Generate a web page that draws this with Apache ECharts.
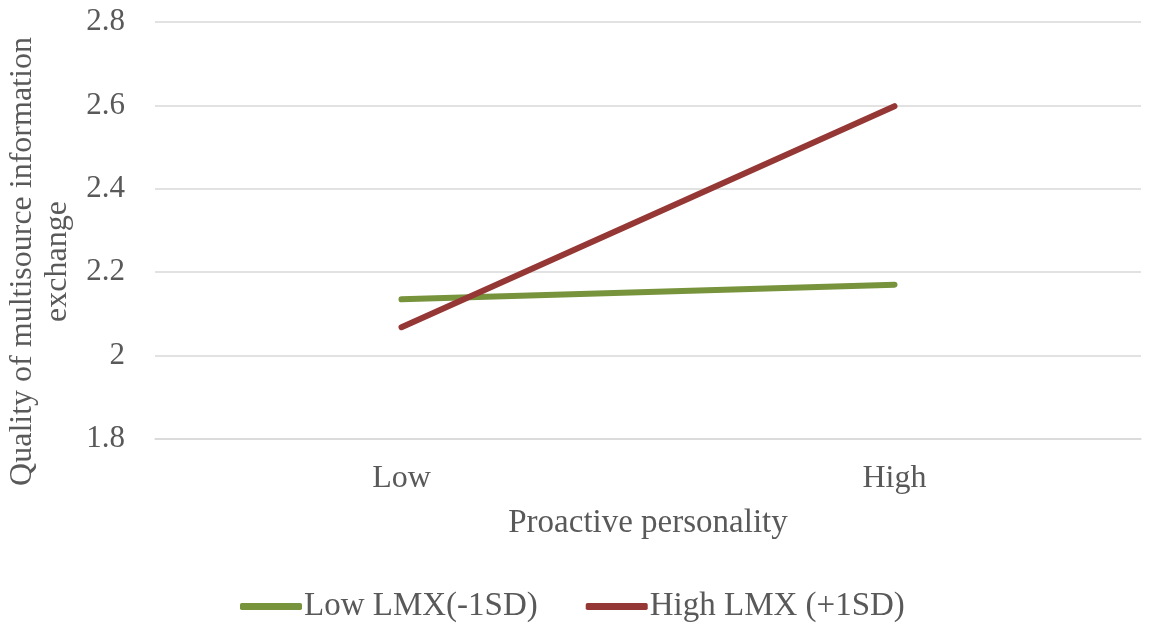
<!DOCTYPE html>
<html>
<head>
<meta charset="utf-8">
<script src="https://cdn.jsdelivr.net/npm/echarts@6/dist/echarts.min.js"></script>
<style>
  html, body { margin: 0; padding: 0; background: #fff; }
  #main { width: 1176px; height: 636px; }
</style>
</head>
<body>
<div id="main"></div>
<script>
// data
const categories = ['Low', 'High'];
const lowLMX = [2.135, 2.17];
const highLMX = [2.068, 2.598];
const seriesNames = ['Low LMX(-1SD)', 'High LMX (+1SD)'];

const FONT = '"Liberation Serif", "Times New Roman", serif';
const TEXT = '#595959';

let myChart = echarts.init(document.getElementById('main'));

let option = {
    backgroundColor: '#fff',
    color: ['#77933C', '#953735'],
    textStyle: { fontFamily: FONT, color: TEXT },
    grid: { left: 155, right: 35, top: 22, bottom: 197, outerBoundsMode: 'none', containLabel: false },
    legend: {
        bottom: 8,
        left: 235,
        icon: 'roundRect',
        itemWidth: 62,
        itemHeight: 7,
        itemGap: 48,
        textStyle: { fontFamily: FONT, fontSize: 33, color: TEXT, padding: [0, 0, 0, -3] },
        data: seriesNames
    },
    xAxis: {
        type: 'category',
        data: categories,
        boundaryGap: true,
        name: 'Proactive personality',
        nameLocation: 'middle',
        nameGap: 68,
        nameTextStyle: { fontFamily: FONT, fontSize: 33, color: TEXT },
        axisLine: { show: true, lineStyle: { color: '#d9d9d9', width: 1.5 } },
        axisTick: { show: false },
        axisLabel: { fontFamily: FONT, fontSize: 32, color: TEXT, margin: 24 }
    },
    yAxis: {
        type: 'value',
        min: 1.8,
        max: 2.8,
        interval: 0.2,
        name: 'Quality of multisource information\nexchange',
        nameLocation: 'middle',
        nameGap: 79,
        nameTextStyle: { fontFamily: FONT, fontSize: 32, color: TEXT, lineHeight: 35, padding: [0, 62, 0, 0] },
        axisLine: { show: false },
        axisTick: { show: false },
        splitLine: { lineStyle: { color: '#d9d9d9', width: 1.5 } },
        axisLabel: {
            fontFamily: FONT, fontSize: 31, color: TEXT, margin: 30,
            formatter: function (v) { return parseFloat(v.toFixed(1)).toString(); }
        }
    },
    series: [
        {
            name: seriesNames[0],
            type: 'line',
            data: lowLMX,
            symbol: 'none',
            lineStyle: { width: 6, cap: 'round' }
        },
        {
            name: seriesNames[1],
            type: 'line',
            data: highLMX,
            symbol: 'none',
            lineStyle: { width: 6, cap: 'round' }
        }
    ],
    animation: false
};

myChart.setOption(option);
</script>
</body>
</html>
